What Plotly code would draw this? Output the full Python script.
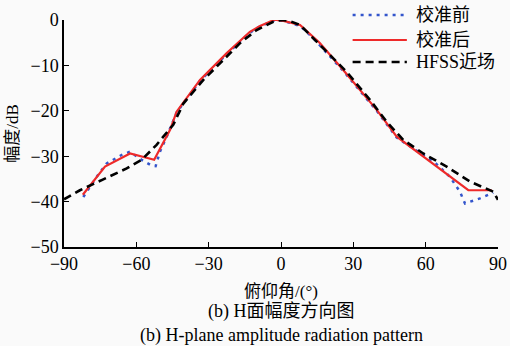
import plotly.graph_objects as go

# 校准后 (after calibration)
after_x = [-82.2, -73, -62.6, -52.6, -46, -43.3, -33.6, -22.5, -12.9, -8.7, -2.5, 1, 7.9, 16, 25.8, 39.7, 48, 56.3, 77.7, 87.4]
after_y = [-38.5, -32.3, -29.4, -30.8, -24.2, -20.2, -13.2, -7.3, -2.6, -1.3, 0.1, -0.2, -1.1, -5.0, -11.0, -19.8, -25.7, -29.0, -37.5, -37.5]

# 校准前 (before calibration)
before_x = [-82, -76.4, -72.3, -66, -62.6, -57.8, -53.6, -52, -50.2, -47.4, -43.3, -33.6, -22.5, -12.9, -8.7, -2.5, 1, 7.9, 13.4, 25.8, 39.7, 48, 56.3, 64, 70, 74.2, 76.3, 82.5, 86, 88]
before_y = [-39.0, -34.5, -31.6, -29.7, -29.0, -30.8, -32.1, -32.2, -29.0, -25.7, -20.4, -13.4, -7.5, -2.8, -1.4, 0.0, -0.2, -1.3, -4.0, -11.2, -20.0, -25.9, -28.8, -31.5, -34.5, -37.8, -40.4, -39.3, -38.5, -38.0]

# HFSS近场
hfss_x = [-90, -83.4, -73.7, -64, -57.8, -51.6, -48.8, -44.7, -40.5, -32.2, -23.9, -17, -10.1, -3.2, 0, 3, 7.9, 16.2, 27.2, 36.9, 43.8, 50.7, 59, 68.7, 78.4, 88, 90]
hfss_y = [-39.5, -37.5, -35.1, -32.7, -30.8, -27.5, -25.7, -23.1, -18.4, -13.2, -8.8, -5.1, -2.2, -0.4, 0.0, -0.1, -1.1, -5.5, -11.4, -17.6, -22.4, -26.4, -29.4, -32.3, -35.6, -37.8, -39.6]

series_names = ["校准前", "校准后", "HFSS近场"]
x_ticks = [-90, -60, -30, 0, 30, 60, 90]
y_ticks = [0, -10, -20, -30, -40, -50]

FONT = "Liberation Serif, Times New Roman, Noto Sans CJK SC, serif"
styles = [
    dict(color="#3355cc", width=2.5, dash="3px,5px"),
    dict(color="#ee2a2a", width=2.2),
    dict(color="black", width=2.6, dash="8px,5px"),
]

fig = go.Figure()
for xs, ys, name, st in zip([before_x, after_x, hfss_x], [before_y, after_y, hfss_y], series_names, styles):
    fig.add_trace(go.Scatter(x=xs, y=ys, mode="lines", name=name, line=st, cliponaxis=False,
                             showlegend=False))

fig.update_layout(
    width=510, height=346,
    margin=dict(l=64, r=12, t=20, b=99),
    paper_bgcolor="#fafafa", plot_bgcolor="#fafafa",
    font=dict(family=FONT, size=18, color="black"),
    xaxis=dict(range=[-90, 90], tickvals=x_ticks, ticks="inside", ticklen=5, tickcolor="black",
               showline=True, linecolor="black", linewidth=1.5, showgrid=False, zeroline=False,
               automargin=False, tickfont=dict(size=18),
               title=dict(text="俯仰角/(°)", standoff=12, font=dict(size=17))),
    yaxis=dict(range=[-50, 0], tickvals=y_ticks, ticks="inside", ticklen=5, tickcolor="black",
               showline=True, linecolor="black", linewidth=1.5, showgrid=False, zeroline=False,
               automargin=False, tickfont=dict(size=18),
               title=dict(text="幅度/dB", standoff=8, font=dict(size=17))),
)

# manual legend (paper coordinates)
leg_y = [1.022, 0.912, 0.815]
for name, st, ly in zip(series_names, styles, leg_y):
    fig.add_shape(type="line", xref="paper", yref="paper", x0=0.665, x1=0.790, y0=ly, y1=ly,
                  line=dict(color=st["color"], width=st["width"], dash=st.get("dash", "solid")))
    fig.add_annotation(text=name, xref="paper", yref="paper", x=0.806, y=ly, showarrow=False,
                       xanchor="left", yanchor="middle", font=dict(size=18))

fig.add_annotation(text="(b) H面幅度方向图", xref="paper", yref="paper", x=0.5, y=(247 - 311) / 227,
                   showarrow=False, font=dict(size=18), xanchor="center", yanchor="middle")
fig.add_annotation(text="(b) H-plane amplitude radiation pattern", xref="paper", yref="paper", x=0.5,
                   y=(247 - 335) / 227, showarrow=False, font=dict(size=18), xanchor="center", yanchor="middle")

fig.write_html("out.html")
